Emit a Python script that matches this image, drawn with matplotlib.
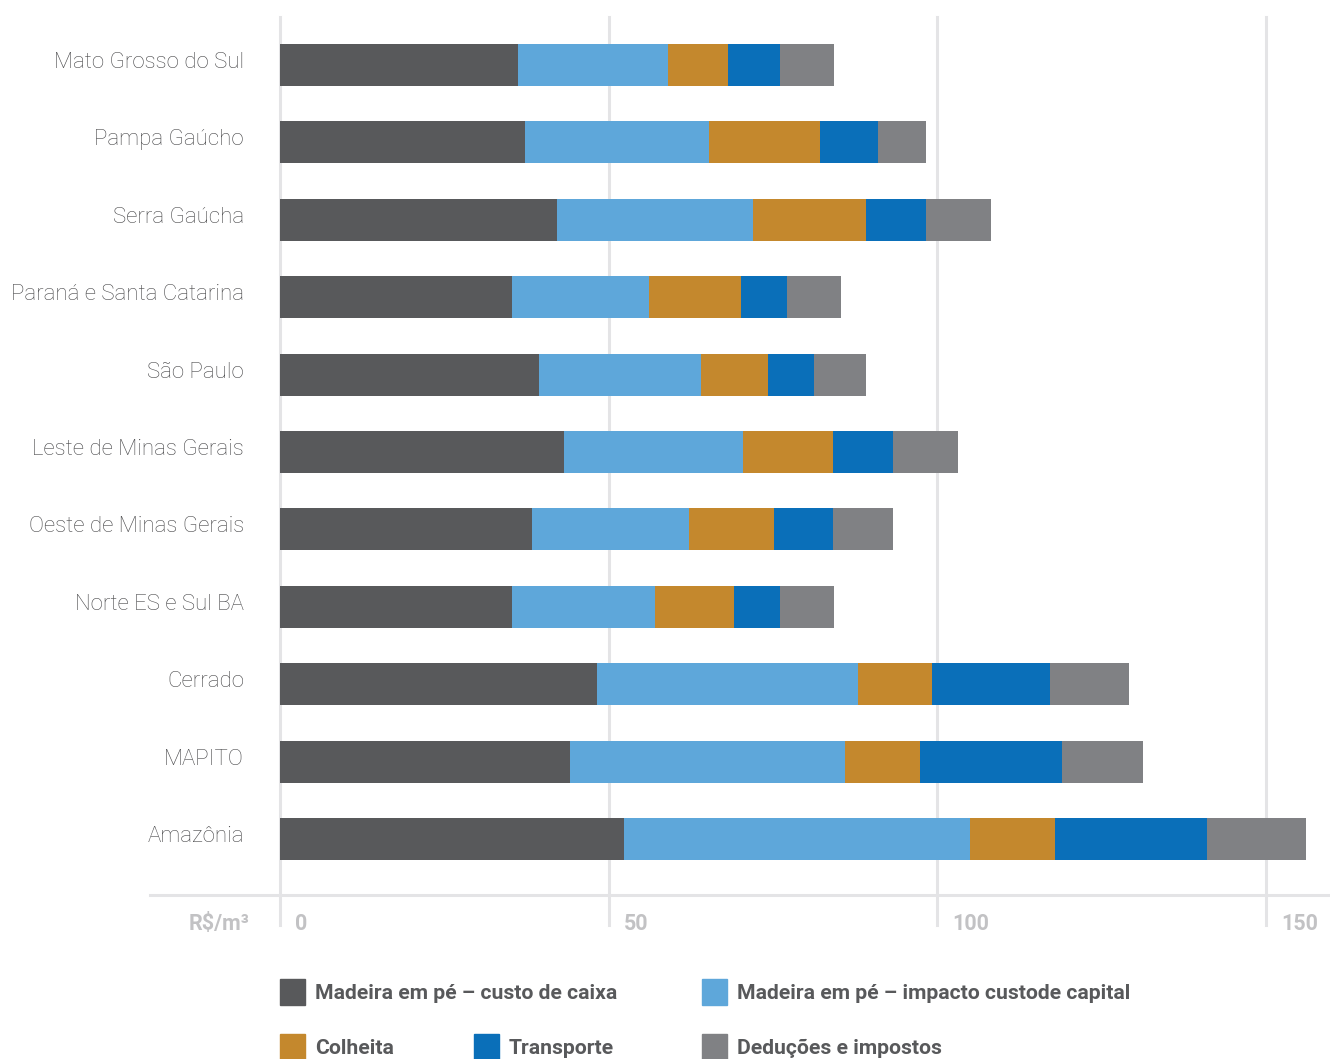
import matplotlib
matplotlib.use("Agg")
import matplotlib.pyplot as plt
import matplotlib.transforms as mtransforms
from matplotlib.patches import Rectangle
import numpy as np

categories = ["Mato Grosso do Sul", "Pampa Gaúcho", "Serra Gaúcha", "Paraná e Santa Catarina",
              "São Paulo", "Leste de Minas Gerais", "Oeste de Minas Gerais", "Norte ES e Sul BA",
              "Cerrado", "MAPITO", "Amazônia"]
series_names = ["Madeira em pé – custo de caixa", "Madeira em pé – impacto custode capital",
                "Colheita", "Transporte", "Deduções e impostos"]
custo_caixa = [36.2, 37.2, 42.1, 35.3, 39.4, 43.2, 38.3, 35.3, 48.2, 44.1, 52.3]
custo_capital = [22.9, 28.0, 29.8, 20.8, 24.7, 27.2, 23.9, 21.7, 39.8, 41.8, 52.7]
colheita = [9.1, 17.0, 17.2, 14.1, 10.1, 13.8, 12.9, 12.1, 11.2, 11.4, 12.9]
transporte = [7.9, 8.8, 9.1, 6.9, 7.0, 9.0, 9.1, 7.0, 18.0, 21.7, 23.1]
deducoes = [8.2, 7.2, 10.0, 8.2, 7.9, 10.0, 9.0, 8.2, 12.0, 12.3, 15.1]
x_ticks = [0, 50, 100, 150]
x_tick_labels = ["0", "50", "100", "150"]
unit_label = "R$/m³"

colors = ["#58595b", "#5ea7da", "#c4882d", "#0a6fb9", "#808184"]

W, H = 1330, 1059
fig = plt.figure(figsize=(W / 100, H / 100), dpi=100)

def fx(px):
    return px / W

def fy(py):
    return 1 - py / H

# axes spans pixel x 150..1330, y 17..895
ax = fig.add_axes([fx(150), fy(895), fx(1330) - fx(150), (895 - 17) / H])
ppu = (1266 - 280) / 150.0
ax.set_xlim(-(280 - 150) / ppu, (1330 - 280) / ppu)
sp = 77.4
ax.set_ylim(10 + (895 - 839) / sp, -(65 - 17) / sp)

for s in ax.spines.values():
    s.set_visible(False)
ax.set_xticks([])
ax.set_yticks([])

grid_c = "#e4e4e6"
ext = (925 - 895) / (895 - 17)
for t in x_ticks:
    ax.axvline(t, ymin=-ext, ymax=1, color=grid_c, lw=2.2, zorder=0, clip_on=False)
ax.axhline(10 + (895 - 839) / sp, color=grid_c, lw=2.2, zorder=0, clip_on=False)

y = np.arange(len(categories))
data = [custo_caixa, custo_capital, colheita, transporte, deducoes]
left = np.zeros(len(categories))
bh = 42 / sp
for vals, c, name in zip(data, colors, series_names):
    ax.barh(y, vals, left=left, height=bh, color=c, label=name, zorder=2)
    left = left + np.array(vals)

label_font = ["Roboto", "DejaVu Sans"]
off = mtransforms.ScaledTranslation(0, 2.5 / 100, fig.dpi_scale_trans)
for i, cat in enumerate(categories):
    ax.text(-(280 - 244) / ppu, i, cat, ha="right", va="center", fontsize=16,
            fontweight="light", color="#48484a", family=label_font,
            transform=ax.transData + off)

tick_c = "#c2c2c4"
for t, lab in zip(x_ticks, x_tick_labels):
    fig.text(fx(280 + t * ppu + 15), fy(923.5), lab, ha="left", va="center",
             fontsize=15.5, fontweight="bold", color=tick_c, family=label_font)
fig.text(fx(250), fy(923.5), unit_label, ha="right", va="center", fontsize=15.5,
         fontweight="bold", color=tick_c, family=label_font)

# legend
leg_items = [(0, 280, 992), (1, 702, 992), (2, 280, 1047), (3, 474, 1047), (4, 702, 1047)]
for idx, lx, ly in leg_items:
    fig.patches.append(Rectangle((fx(lx), fy(ly + 13)), 25 / W, 26 / H,
                                 transform=fig.transFigure, color=colors[idx], figure=fig))
    fig.text(fx(lx + 35), fy(ly + 1.5), series_names[idx], ha="left", va="center",
             fontsize=15.2, fontweight="bold", color="#58595b", family=label_font)

fig.savefig("out.png", dpi=100)
